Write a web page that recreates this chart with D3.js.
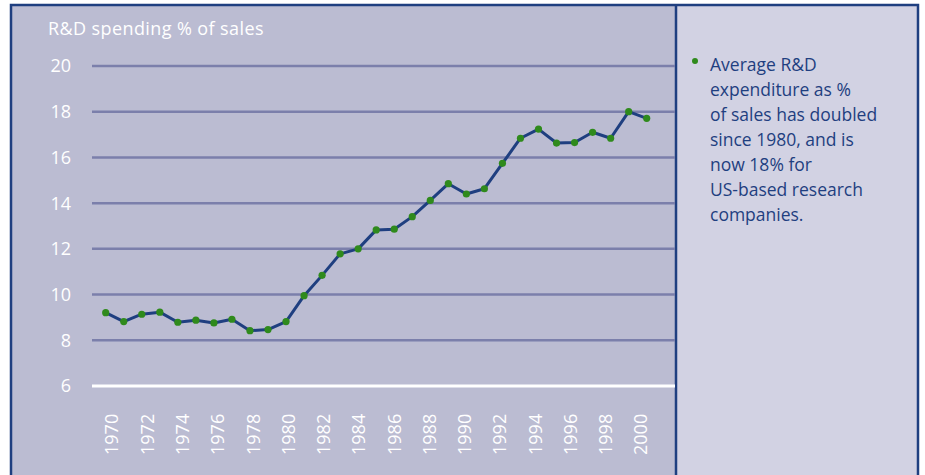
<!DOCTYPE html>
<html>
<head>
<meta charset="utf-8">
<script src="https://cdn.jsdelivr.net/npm/d3@7"></script>
<style>
  body { margin: 0; background: #fff; }
  svg text { font-family: "Open Sans", "Noto Sans", sans-serif; }
</style>
</head>
<body>
<div id="chart"></div>
<script>
// R&D spending as % of sales, 1970-2000
const years = d3.range(1970, 2001);
const spending = [
  9.21, 8.82, 9.14, 9.23, 8.79, 8.88, 8.76, 8.92, 8.42, 8.47,
  8.82, 9.95, 10.84, 11.78, 12.0, 12.83, 12.86, 13.41, 14.12, 14.85,
  14.4, 14.63, 15.74, 16.84, 17.24, 16.63, 16.65, 17.1, 16.84, 18.0,
  17.71
];
const yTicks = [6, 8, 10, 12, 14, 16, 18, 20];
const tickYears = years.filter(y => y % 2 === 0);
const titleText = "R&D spending % of sales";
const noteLines = [
  "Average R&D",
  "expenditure as %",
  "of sales has doubled",
  "since 1980, and is",
  "now 18% for",
  "US-based research",
  "companies."
];

const width = 925, height = 475;
const navy = "#1f3f80";

const svg = d3.select("#chart")
  .append("svg")
  .attr("width", width)
  .attr("height", height);

// panels
svg.append("rect")
  .attr("x", 11).attr("y", 5)
  .attr("width", 665).attr("height", height)
  .attr("fill", "#bbbcd2");
svg.append("rect")
  .attr("x", 676).attr("y", 5)
  .attr("width", 242).attr("height", height)
  .attr("fill", "#d2d2e3");

// frame
svg.append("path")
  .attr("d", `M11,${height} V5 H918 V${height} M676,5 V${height}`)
  .attr("fill", "none")
  .attr("stroke", navy)
  .attr("stroke-width", 2.5);

const x = d3.scaleLinear().domain([1970, 2000]).range([105.7, 646.7]);
const xLabel = d3.scalePoint().domain(tickYears).range([112, 641]);
const y = d3.scaleLinear().domain([6, 20]).range([386, 66]);

// gridlines
svg.append("g")
  .selectAll("line")
  .data(yTicks)
  .join("line")
  .attr("x1", 92).attr("x2", 675)
  .attr("y1", d => y(d)).attr("y2", d => y(d))
  .attr("stroke", d => d === 6 ? "#ffffff" : "#7b7fab")
  .attr("stroke-width", d => d === 6 ? 3 : 2.5);

// y labels
svg.append("g")
  .selectAll("text")
  .data(yTicks)
  .join("text")
  .attr("x", 71)
  .attr("y", d => y(d))
  .attr("dy", "0.36em")
  .attr("text-anchor", "end")
  .attr("fill", "#fff")
  .style("font-size", "18px")
  .text(d => d);

// x labels, rotated
svg.append("g")
  .selectAll("text")
  .data(tickYears)
  .join("text")
  .attr("transform", d => `translate(${xLabel(d)},455) rotate(-90)`)
  .attr("dy", "0.36em")
  .attr("fill", "#fff")
  .style("font-size", "18px")
  .text(d => d);

// title
svg.append("text")
  .attr("x", 48).attr("y", 35)
  .attr("fill", "#fff")
  .style("font-size", "18px")
  .style("letter-spacing", "0.4px")
  .text(titleText);

// line + dots
const line = d3.line()
  .x((d, i) => x(years[i]))
  .y(d => y(d));

svg.append("path")
  .datum(spending)
  .attr("d", line)
  .attr("fill", "none")
  .attr("stroke", navy)
  .attr("stroke-width", 3)
  .attr("stroke-linejoin", "round");

svg.append("g")
  .selectAll("circle")
  .data(spending)
  .join("circle")
  .attr("cx", (d, i) => x(years[i]))
  .attr("cy", d => y(d))
  .attr("r", 3.6)
  .attr("fill", "#2f8a1c");

// note
svg.append("circle")
  .attr("cx", 695).attr("cy", 61)
  .attr("r", 3)
  .attr("fill", "#2f8a1c");

svg.append("text")
  .attr("x", 710).attr("y", 71)
  .attr("fill", navy)
  .style("font-size", "17.5px")
  .selectAll("tspan")
  .data(noteLines)
  .join("tspan")
  .attr("x", 710)
  .attr("dy", (d, i) => i === 0 ? 0 : 25)
  .text(d => d);
</script>
</body>
</html>
